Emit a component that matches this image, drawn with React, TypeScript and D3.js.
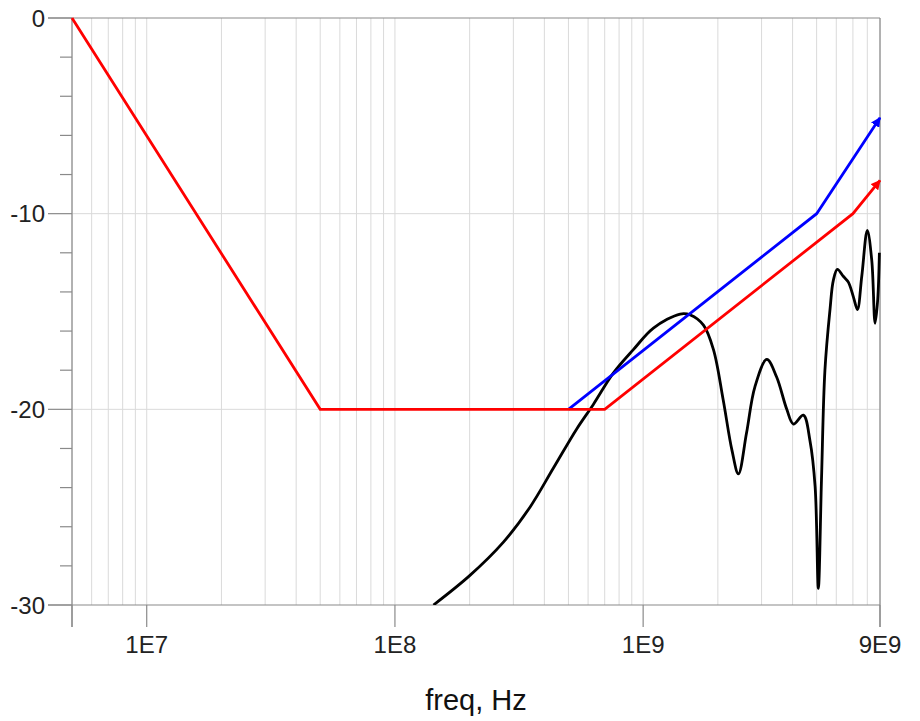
import React from "react";
import * as d3 from "d3";

// spec mask lines (freq in Hz, dB)
const redFreq = [5e6, 5e7, 7e8, 7e9, 9e9];
const redDb = [0, -20, -20, -10, -8.3];
const blueFreq = [5e8, 5e9, 9e9];
const blueDb = [-20, -10, -5.1];

// measured response
const blackFreq = [
  1.43e8, 2.0e8, 2.73e8, 3.5e8, 4.35e8, 5.4e8, 6.3e8, 7.58e8, 9.13e8, 1.1e9,
  1.41e9, 1.55e9, 1.75e9, 1.92e9, 2.1e9, 2.28e9, 2.42e9, 2.61e9, 2.82e9, 3.15e9,
  3.45e9, 3.79e9, 4.03e9, 4.42e9, 4.7e9, 4.93e9, 5.08e9, 5.23e9, 5.4e9, 5.66e9,
  5.84e9, 6.06e9, 6.4e9, 6.71e9, 7.03e9, 7.3e9, 7.6e9, 8.0e9, 8.34e9, 8.6e9,
  8.81e9, 8.95e9,
];
const blackDb = [
  -30, -28.5, -26.8, -25.0, -23.0, -21.0, -19.75, -18.15, -16.95, -15.85,
  -15.13, -15.18, -15.7, -16.95, -19.5, -22.1, -23.3, -21.2, -18.85, -17.45,
  -18.35, -20.0, -20.75, -20.3, -21.6, -23.95, -29.15, -23.6, -18.0, -14.9,
  -13.4, -12.85, -13.2, -13.5, -14.25, -14.9, -13.2, -10.85, -12.4, -15.6,
  -14.4, -12.0,
];

const yMajor = [0, -10, -20, -30];
const yMinor = [-2, -4, -6, -8, -12, -14, -16, -18, -22, -24, -26, -28];
const xMajor = [5e6, 1e7, 1e8, 1e9, 9e9];
const xMajorLabels = ["", "1E7", "1E8", "1E9", "9E9"];
const xLabel = "freq, Hz";

const W = 920;
const H = 721;
const left = 72;
const right = 880;
const top = 18;
const bottom = 605;
const font = "Arial, 'Liberation Sans', sans-serif";

export default function App() {
  const x = d3.scaleLog().domain([5e6, 9e9]).range([left, right]);
  const y = d3.scaleLinear().domain([-30, 0]).range([bottom, top]);

  const line = d3
    .line<[number, number]>()
    .x((d) => x(d[0]))
    .y((d) => y(d[1]));
  const smooth = d3
    .line<[number, number]>()
    .x((d) => x(d[0]))
    .y((d) => y(d[1]))
    .curve(d3.curveCatmullRom.alpha(0.5));

  const red = redFreq.map((f, i) => [f, redDb[i]] as [number, number]);
  const blue = blueFreq.map((f, i) => [f, blueDb[i]] as [number, number]);
  const black = blackFreq.map((f, i) => [f, blackDb[i]] as [number, number]);

  const grid = x.ticks();
  const axisColor = "#8a8a8a";
  const gridColor = "#dadada";

  return (
    <svg
      width={W}
      height={H}
      style={{ position: "absolute", left: 0, top: 0, background: "#fff" }}
    >
      <defs>
        <marker id="arrR" viewBox="0 0 10 10" refX="9" refY="5" markerWidth="3.5" markerHeight="3.5" orient="auto">
          <path d="M0,0 L10,5 L0,10 z" fill="#ff0000" />
        </marker>
        <marker id="arrB" viewBox="0 0 10 10" refX="9" refY="5" markerWidth="3.5" markerHeight="3.5" orient="auto">
          <path d="M0,0 L10,5 L0,10 z" fill="#0000ff" />
        </marker>
        <clipPath id="plot">
          <rect x={left} y={top - 2} width={right - left + 1} height={bottom - top + 2} />
        </clipPath>
      </defs>

      {/* grid */}
      {grid.map((t, i) => (
        <line key={"g" + i} x1={x(t)} x2={x(t)} y1={top} y2={bottom} stroke={gridColor} strokeWidth={1} />
      ))}
      {[-10, -20].map((v) => (
        <line key={"h" + v} x1={left} x2={right} y1={y(v)} y2={y(v)} stroke={gridColor} strokeWidth={1} />
      ))}

      {/* frame + ticks */}
      <line x1={left - 24} x2={right} y1={top} y2={top} stroke={axisColor} strokeWidth={1.2} />
      <line x1={left - 24} x2={right} y1={bottom} y2={bottom} stroke={axisColor} strokeWidth={1.2} />
      <line x1={left} x2={left} y1={top} y2={bottom + 22} stroke={axisColor} strokeWidth={1.2} />
      <line x1={right} x2={right} y1={top} y2={bottom + 22} stroke={axisColor} strokeWidth={1.2} />
      {yMajor.map((v) => (
        <g key={"ym" + v}>
          <line x1={left - 24} x2={left} y1={y(v)} y2={y(v)} stroke={axisColor} strokeWidth={1.2} />
          <text
            x={45}
            y={y(v)}
            dy="0.36em"
            textAnchor="end"
            fontFamily={font}
            fontSize={24}
            fill="#222"
          >
            {v}
          </text>
        </g>
      ))}
      {yMinor.map((v) => (
        <line key={"yn" + v} x1={left - 12} x2={left} y1={y(v)} y2={y(v)} stroke={axisColor} strokeWidth={1.2} />
      ))}
      {xMajor.map((t, i) => (
        <g key={"xm" + i}>
          <line x1={x(t)} x2={x(t)} y1={bottom} y2={bottom + 22} stroke={axisColor} strokeWidth={1.2} />
          <text
            x={x(t)}
            y={653}
            textAnchor="middle"
            fontFamily={font}
            fontSize={24}
            fill="#222"
          >
            {xMajorLabels[i]}
          </text>
        </g>
      ))}
      <text x={(left + right) / 2} y={710} textAnchor="middle" fontFamily={font} fontSize={29} fill="#111">
        {xLabel}
      </text>

      {/* traces */}
      <g clipPath="url(#plot)">
        <path d={smooth(black) || ""} fill="none" stroke="#000" strokeWidth={2.8} strokeLinejoin="round" />
      </g>
      <path d={line(blue) || ""} fill="none" stroke="#0000ff" strokeWidth={2.8} markerEnd="url(#arrB)" />
      <path d={line(red) || ""} fill="none" stroke="#ff0000" strokeWidth={2.8} markerEnd="url(#arrR)" />
    </svg>
  );
}
